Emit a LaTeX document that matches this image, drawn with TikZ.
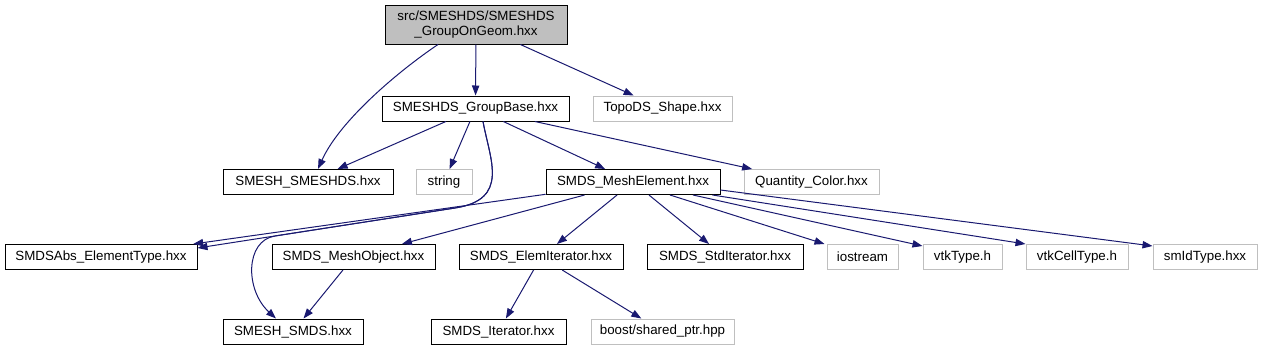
\documentclass[tikz,border=0pt]{standalone}
\usepackage{fontspec}
\setmainfont{Liberation Sans}
\usetikzlibrary{arrows.meta,calc}
\definecolor{edgeblue}{HTML}{191970}
\definecolor{lgray}{HTML}{BFBFBF}
\begin{document}
\begin{tikzpicture}[x=0.75pt,y=-0.75pt,
  box/.style={draw=black,line width=0.75pt,inner sep=0pt,minimum height=25*0.75pt,font=\fontsize{10}{11.5}\selectfont,fill=white},
  gbox/.style={box,draw=lgray},
  bw/.style={minimum width=#1*0.75pt},
  e/.style={draw=edgeblue,line width=0.75pt,-{Triangle[length=7.5pt,width=5.5pt]}},
]
\useasboundingbox (0,0) rectangle (1263,351);
% nodes
\node[box,fill=lgray,bw=182,minimum height=39*0.75pt,align=center] (top) at (476,24.5) {src/SMESHDS/SMESHDS\\\_GroupOnGeom.hxx};
\node[box,bw=187] (gb) at (475.5,108.5) {SMESHDS\_GroupBase.hxx};
\node[gbox,bw=139] (topo) at (662.5,108.5) {TopoDS\_Shape.hxx};
\node[box,bw=170] (smeshds) at (308,182) {SMESH\_SMESHDS.hxx};
\node[gbox,bw=56] (string) at (444,182) {string};
\node[box,bw=174] (me) at (633,182) {SMDS\_MeshElement.hxx};
\node[gbox,bw=135] (qc) at (811.5,182) {Quantity\_Color.hxx};
\node[box,bw=192] (abs) at (101,257) {SMDSAbs\_ElementType.hxx};
\node[box,bw=163] (mo) at (353.5,257) {SMDS\_MeshObject.hxx};
\node[box,bw=164] (ei) at (541,257) {SMDS\_ElemIterator.hxx};
\node[box,bw=156] (si) at (725,257) {SMDS\_StdIterator.hxx};
\node[gbox,bw=71] (ios) at (862.5,257) {iostream};
\node[gbox,bw=79] (vt) at (962.5,257) {vtkType.h};
\node[gbox,bw=102] (vct) at (1077,257) {vtkCellType.h};
\node[gbox,bw=104] (sid) at (1205,257) {smIdType.hxx};
\node[box,bw=140] (smds) at (293,331.5) {SMESH\_SMDS.hxx};
\node[box,bw=135] (it) at (498.5,331.5) {SMDS\_Iterator.hxx};
\node[gbox,bw=143] (boost) at (662.5,331.5) {boost/shared\_ptr.hpp};
% edges
\draw[e] (top) -- (gb);
\draw[e] (top) -- (topo);
\draw[e] ($(top.south)+(-38,0)$) .. controls (400,70) and (340,120) .. ($(smeshds.north)+(10,0)$);
\draw[e] (gb) -- (smeshds);
\draw[e] (gb) -- (string);
\draw[e] (gb) -- (me);
\draw[e] (gb) -- (qc);
\draw[e] ($(gb.south)+(7.5,0)$) .. controls (490,160) and (510,199.4) .. (455,208) -- ($(abs.north east)+(0,4)$);
\draw[e] ($(gb.south)+(7.5,0)$) .. controls (490,160) and (510,199.4) .. (455,208) -- (275,236) .. controls (245,240.7) and (245,290) .. ($(smds.north)+(-17,0)$);
\draw[e] (me) -- (abs);
\draw[e] (me) -- (mo);
\draw[e] (me) -- (ei);
\draw[e] (me) -- (si);
\draw[e] ($(me.south)+(37,0)$) -- ($(ios.north west)+(-2,0)$);
\draw[e] ($(me.south)+(60,0)$) -- ($(vt.north west)+(0,2)$);
\draw[e] ($(me.south east)+(-8,0)$) -- ($(vct.north west)+(0,0)$);
\draw[e] ($(me.south east)+(0,-5)$) -- ($(sid.north west)+(0,2)$);
\draw[e] (mo) -- (smds);
\draw[e] (ei) -- (it);
\draw[e] (ei) -- (boost);
\end{tikzpicture}
\end{document}
